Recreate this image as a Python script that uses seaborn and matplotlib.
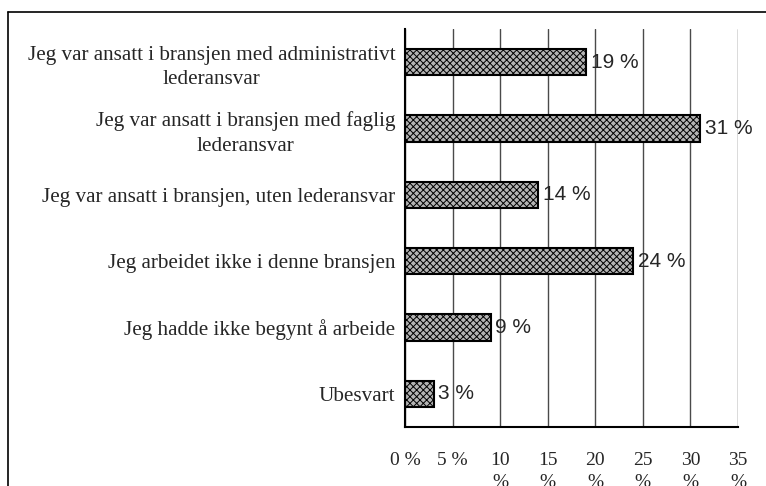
import matplotlib
matplotlib.use("Agg")
import matplotlib.pyplot as plt
import seaborn as sns
import pandas as pd
from matplotlib.lines import Line2D

sns.set_style("white")
plt.rcParams['font.family'] = ['Liberation Serif', 'DejaVu Serif']
plt.rcParams['hatch.color'] = '#5a5a5a'
plt.rcParams['hatch.linewidth'] = 0.7

categories = ["Jeg var ansatt i bransjen med administrativt\nlederansvar",
              "Jeg var ansatt i bransjen med faglig\nlederansvar",
              "Jeg var ansatt i bransjen, uten lederansvar",
              "Jeg arbeidet ikke i denne bransjen",
              "Jeg hadde ikke begynt å arbeide",
              "Ubesvart"]
values = [19, 31, 14, 24, 9, 3]
xticks = [0, 5, 10, 15, 20, 25, 30, 35]
xticklabels = ["0 %", "5 %", "10\n%", "15\n%", "20\n%", "25\n%", "30\n%", "35\n%"]

df = pd.DataFrame({"cat": categories, "val": values})

fig = plt.figure(figsize=(7.66, 4.86), dpi=100)
ax = fig.add_axes([405/766, 1-427/486, 333/766, 398/486])

sns.barplot(data=df, x="val", y="cat", orient="h", width=0.4,
            color="#b4b4b4", edgecolor="black", linewidth=1.5, ax=ax)
for p in ax.patches:
    p.set_hatch("xxxxx")

ax.set_xlim(0, 35)
ax.set_ylim(5.5, -0.5)
ax.set_xticks(xticks)
ax.set_xticklabels(xticklabels, fontsize=14, linespacing=1.42)
ax.set_xlabel("")
ax.set_ylabel("")

ax.set_yticks(range(len(categories)))
ax.set_yticklabels(categories, fontsize=15.2, multialignment="center", linespacing=1.37)
ax.set_yticks([i - 0.5 for i in range(len(categories) + 1)], minor=True)
ax.tick_params(axis="y", which="major", length=0, pad=7)
ax.tick_params(axis="y", which="minor", length=5, width=1.2, color="black", direction="out")
ax.tick_params(axis="x", length=6, width=1.2, color="black", direction="out", pad=12)

ax.xaxis.grid(True, color="#4a4a4a", linewidth=1.0)
ax.set_axisbelow(True)
for s in ["top", "right"]:
    ax.spines[s].set_visible(False)
for s in ["left", "bottom"]:
    ax.spines[s].set_color("black")
    ax.spines[s].set_linewidth(1.5)

for i, v in enumerate(values):
    ax.text(v + 0.5, i, f"{v} %", va="center", ha="left",
            fontsize=15, family="Liberation Sans")

# outer frame, partly cut off by the image edge
fig.add_artist(Line2D([8/766, 1], [1-12/486, 1-12/486], color="black", linewidth=1.2,
                      transform=fig.transFigure))
fig.add_artist(Line2D([8/766, 8/766], [0, 1-12/486], color="black", linewidth=1.2,
                      transform=fig.transFigure))

fig.savefig("out.png", dpi=100)
